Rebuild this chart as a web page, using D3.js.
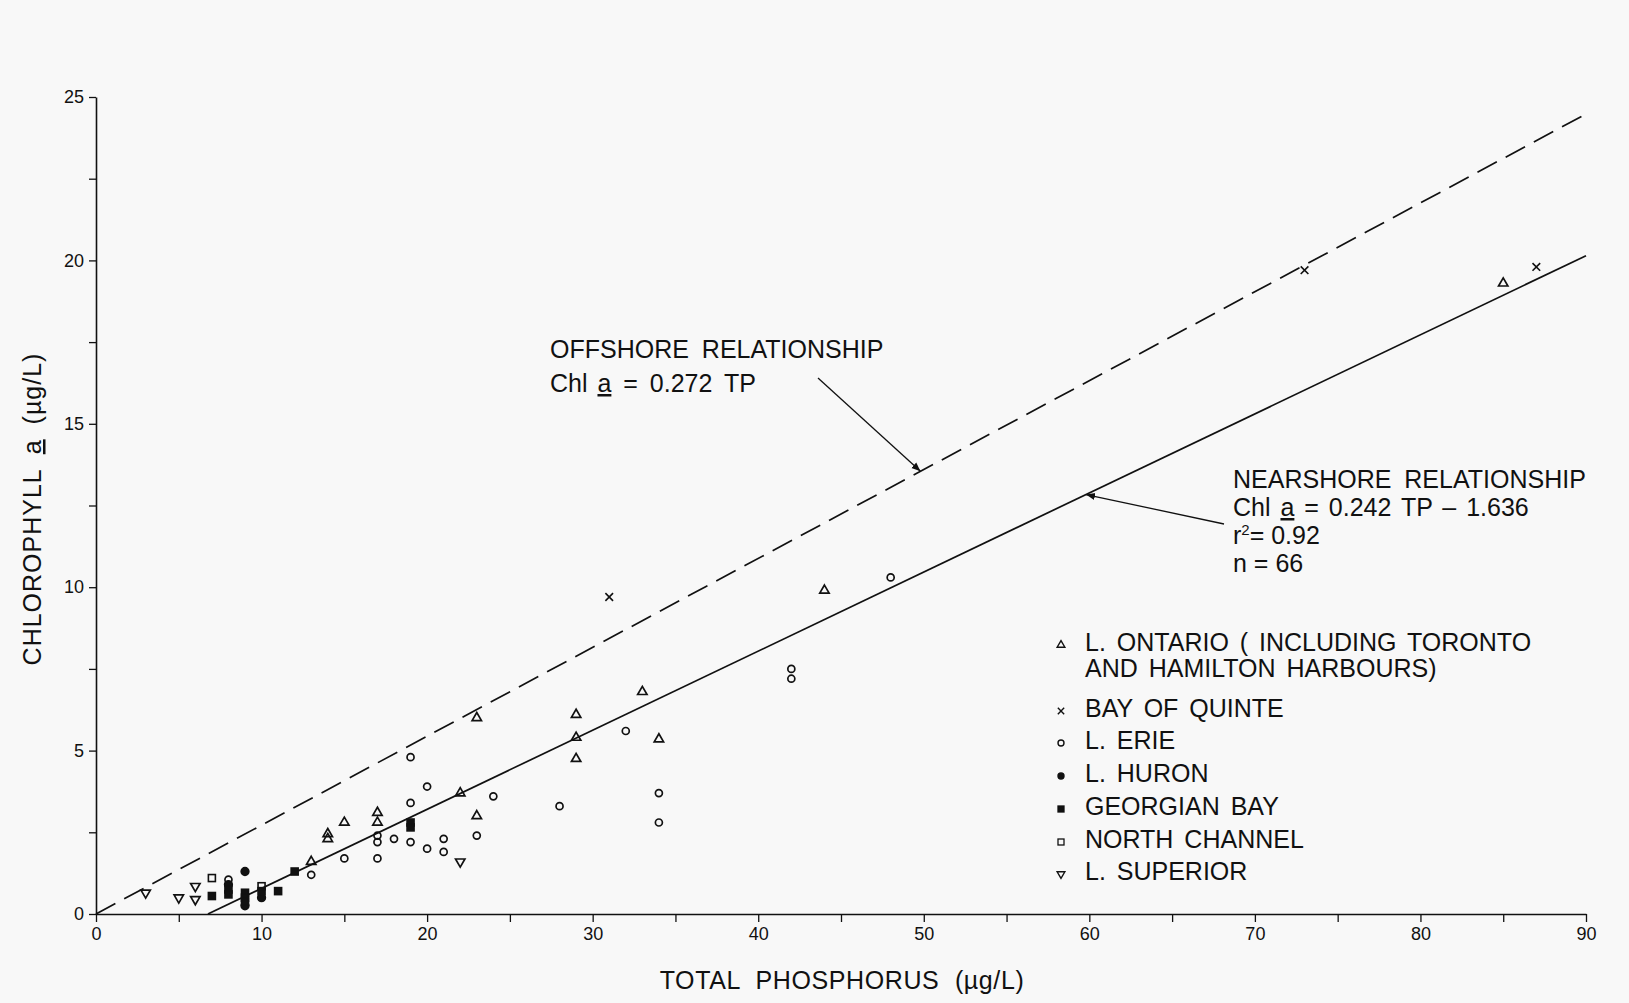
<!DOCTYPE html>
<html>
<head>
<meta charset="utf-8">
<script src="https://cdn.jsdelivr.net/npm/d3@7"></script>
<style>
  body { margin: 0; background: #f8f8f8; }
  svg { display: block; font-family: "Liberation Sans", Arial, sans-serif; }
</style>
</head>
<body>
<script>
// values (TP in ug/L, Chl a in ug/L)
const ontarioTP  = [13, 14, 14, 15, 17, 17, 22, 23, 23, 29, 29, 29, 33, 34, 44, 85];
const ontarioChl = [1.6, 2.45, 2.3, 2.8, 3.1, 2.8, 3.7, 6.0, 3.0, 6.1, 5.4, 4.75, 6.8, 5.35, 9.9, 19.3];

const quinteTP  = [31, 73, 87];
const quinteChl = [9.7, 19.7, 19.8];

const erieTP  = [8, 13, 15, 17, 17, 17, 18, 19, 19, 19, 20, 20, 21, 21, 23, 24, 28, 32, 34, 34, 42, 42, 48];
const erieChl = [1.05, 1.2, 1.7, 2.4, 2.2, 1.7, 2.3, 4.8, 3.4, 2.2, 3.9, 2.0, 2.3, 1.9, 2.4, 3.6, 3.3, 5.6, 3.7, 2.8, 7.5, 7.2, 10.3];

const huronTP  = [8, 9, 9, 10];
const huronChl = [0.9, 1.3, 0.25, 0.5];

const georgianTP  = [7, 8, 8, 9, 9, 9, 10, 11, 12, 19, 19];
const georgianChl = [0.55, 0.75, 0.6, 0.65, 0.5, 0.38, 0.7, 0.7, 1.3, 2.8, 2.65];

const northTP  = [7, 10];
const northChl = [1.1, 0.85];

const superiorTP  = [3, 5, 6, 6, 22];
const superiorChl = [0.65, 0.5, 0.85, 0.45, 1.6];

const xTicks = [0, 10, 20, 30, 40, 50, 60, 70, 80, 90];
const yTicks = [0, 5, 10, 15, 20, 25];

// regression lines
const offSlope = 0.272;
const nearSlope = 0.242, nearIcpt = -1.636;

const legendLabels = [
  ["L. ONTARIO ( INCLUDING TORONTO", "AND HAMILTON HARBOURS)"],
  ["BAY OF QUINTE"],
  ["L. ERIE"],
  ["L. HURON"],
  ["GEORGIAN BAY"],
  ["NORTH CHANNEL"],
  ["L. SUPERIOR"]
];

const width = 1629, height = 1003;
const ink = "#111";

const svg = d3.select("body").append("svg")
  .attr("width", width)
  .attr("height", height)
  .style("background", "#f8f8f8");

const x = d3.scaleLinear().domain([0, 90]).range([96, 1586]);
const y = d3.scaleLinear().domain([0, 25]).range([914, 97]);

// axes
const axisX = d3.axisBottom(x)
  .tickValues(d3.range(0, 91, 5))
  .tickFormat(d => xTicks.includes(d) ? d : "")
  .tickSize(8).tickSizeOuter(0).tickPadding(5);
const axisY = d3.axisLeft(y)
  .tickValues(d3.range(0, 25.1, 2.5))
  .tickFormat(d => yTicks.includes(d) ? d : "")
  .tickSize(7).tickSizeOuter(0).tickPadding(5);

const gx = svg.append("g").attr("transform", `translate(0, ${y(0)})`).call(axisX);
const gy = svg.append("g").attr("transform", `translate(${x(0)}, 0)`).call(axisY);

[gx, gy].forEach(g => {
  g.select(".domain").attr("stroke", ink).attr("stroke-width", 1.6);
  g.selectAll(".tick line").attr("stroke", ink).attr("stroke-width", 1.3);
  g.selectAll(".tick text")
    .attr("fill", ink)
    .style("font-family", '"Liberation Sans Narrow", "Liberation Sans", sans-serif')
    .style("font-size", "18px");
});

// axis titles
svg.append("text")
  .attr("x", 842).attr("y", 989)
  .attr("text-anchor", "middle")
  .attr("fill", ink)
  .style("font-size", "25px")
  .style("letter-spacing", "0.6px")
  .style("word-spacing", "8px")
  .text("TOTAL PHOSPHORUS (µg/L)");

const yTitle = svg.append("text")
  .attr("transform", "translate(41, 509) rotate(-90)")
  .attr("text-anchor", "middle")
  .attr("fill", ink)
  .style("font-size", "25px")
  .style("letter-spacing", "1px")
  .style("word-spacing", "7px");
yTitle.append("tspan").text("CHLOROPHYLL ");
yTitle.append("tspan").style("text-decoration", "underline").text("a");
yTitle.append("tspan").text(" (µg/L)");

// regression lines
const line = d3.line().x(d => x(d[0])).y(d => y(d[1]));

svg.append("path")
  .datum([[0, 0], [90, offSlope * 90]])
  .attr("d", line)
  .attr("fill", "none")
  .attr("stroke", ink)
  .attr("stroke-width", 1.7)
  .attr("stroke-dasharray", "22,10");

svg.append("path")
  .datum([[-nearIcpt / nearSlope, 0], [90, nearSlope * 90 + nearIcpt]])
  .attr("d", line)
  .attr("fill", "none")
  .attr("stroke", ink)
  .attr("stroke-width", 1.7);

// markers
const triUp = d3.symbol(d3.symbolTriangle, 38)();
const cross = d3.symbol(d3.symbolTimes, 40)();

function draw(g, tp, chl, kind) {
  const pts = tp.map((t, i) => [t, chl[i]]);
  const sel = g.selectAll(null).data(pts).enter();
  if (kind === "tri" || kind === "triDown") {
    sel.append("path").attr("d", triUp)
      .attr("transform", d => `translate(${x(d[0])},${y(d[1])})` + (kind === "triDown" ? " rotate(180)" : ""))
      .attr("fill", "none").attr("stroke", ink).attr("stroke-width", 1.7);
  } else if (kind === "cross") {
    sel.append("path").attr("d", cross)
      .attr("transform", d => `translate(${x(d[0])},${y(d[1])})`)
      .attr("fill", "none").attr("stroke", ink).attr("stroke-width", 1.6);
  } else if (kind === "circle" || kind === "dot") {
    sel.append("circle")
      .attr("cx", d => x(d[0])).attr("cy", d => y(d[1]))
      .attr("r", kind === "dot" ? 3.8 : 3.5)
      .attr("fill", kind === "dot" ? ink : "none")
      .attr("stroke", ink).attr("stroke-width", 1.7);
  } else {
    sel.append("rect")
      .attr("x", d => x(d[0]) - 3.5).attr("y", d => y(d[1]) - 3.5)
      .attr("width", 7).attr("height", 7)
      .attr("fill", kind === "square" ? ink : "none")
      .attr("stroke", ink).attr("stroke-width", 1.6);
  }
}

const pg = svg.append("g");
draw(pg, ontarioTP, ontarioChl, "tri");
draw(pg, quinteTP, quinteChl, "cross");
draw(pg, erieTP, erieChl, "circle");
draw(pg, huronTP, huronChl, "dot");
draw(pg, georgianTP, georgianChl, "square");
draw(pg, northTP, northChl, "openSquare");
draw(pg, superiorTP, superiorChl, "triDown");

// annotations with arrows
svg.append("defs").append("marker")
  .attr("id", "head")
  .attr("viewBox", "0 0 10 10")
  .attr("refX", 10).attr("refY", 5)
  .attr("markerWidth", 9).attr("markerHeight", 9)
  .attr("markerUnits", "userSpaceOnUse")
  .attr("orient", "auto")
  .append("path").attr("d", "M0,1 L10,5 L0,9 Z").attr("fill", ink);

function note(lines, x0, y0, lh) {
  const t = svg.append("text").attr("fill", ink).style("font-size", "25px");
  lines.forEach((parts, i) => {
    parts.forEach((p, j) => {
      const s = t.append("tspan").text(p.t);
      if (j === 0) s.attr("x", x0).attr("y", y0 + i * lh);
      s.style("word-spacing", p.ws || "0px");
      if (p.u) s.style("text-decoration", "underline");
      if (p.sup) s.attr("dy", -9).style("font-size", "15px");
      if (p.down) s.attr("dy", 9);
    });
  });
}

note([
  [{t: "OFFSHORE RELATIONSHIP", ws: "6px"}],
  [{t: "Chl ", ws: "3px"}, {t: "a", u: true}, {t: " = 0.272 TP", ws: "5px"}]
], 550, 358, 34);

note([
  [{t: "NEARSHORE RELATIONSHIP", ws: "6px"}],
  [{t: "Chl ", ws: "3px"}, {t: "a", u: true}, {t: " = 0.242 TP – 1.636", ws: "3px"}],
  [{t: "r"}, {t: "2", sup: true}, {t: "= 0.92", down: true}],
  [{t: "n = 66"}]
], 1233, 488, 28);

const offTip = 49.8, nearTip = 59.8;
svg.append("line")
  .attr("x1", 818).attr("y1", 378)
  .attr("x2", x(offTip)).attr("y2", y(offSlope * offTip))
  .attr("stroke", ink).attr("stroke-width", 1.3)
  .attr("marker-end", "url(#head)");
svg.append("line")
  .attr("x1", 1224).attr("y1", 524)
  .attr("x2", x(nearTip)).attr("y2", y(nearSlope * nearTip + nearIcpt))
  .attr("stroke", ink).attr("stroke-width", 1.3)
  .attr("marker-end", "url(#head)");

// legend
const kinds = ["tri", "cross", "circle", "dot", "square", "openSquare", "triDown"];
const legY = [651, 717, 749, 782, 815, 848, 880];
const lg = svg.append("g");
kinds.forEach((k, i) => {
  const my = legY[i] - 6;
  const mg = lg.append("g");
  if (k === "tri" || k === "triDown") {
    mg.append("path").attr("d", d3.symbol(d3.symbolTriangle, 26)())
      .attr("transform", `translate(1061,${my})` + (k === "triDown" ? " rotate(180)" : ""))
      .attr("fill", "none").attr("stroke", ink).attr("stroke-width", 1.4);
  } else if (k === "cross") {
    mg.append("path").attr("d", d3.symbol(d3.symbolTimes, 28)())
      .attr("transform", `translate(1061,${my})`)
      .attr("fill", "none").attr("stroke", ink).attr("stroke-width", 1.4);
  } else if (k === "circle" || k === "dot") {
    mg.append("circle").attr("cx", 1061).attr("cy", my).attr("r", 3)
      .attr("fill", k === "dot" ? ink : "none").attr("stroke", ink).attr("stroke-width", 1.4);
  } else {
    mg.append("rect").attr("x", 1058).attr("y", my - 3).attr("width", 6).attr("height", 6)
      .attr("fill", k === "square" ? ink : "none").attr("stroke", ink).attr("stroke-width", 1.3);
  }
  const t = lg.append("text").attr("fill", ink)
    .style("font-size", "25px").style("word-spacing", "4px");
  legendLabels[i].forEach((s, j) => {
    t.append("tspan").attr("x", 1085).attr("y", legY[i] + j * 26).text(s);
  });
});
</script>
</body>
</html>
